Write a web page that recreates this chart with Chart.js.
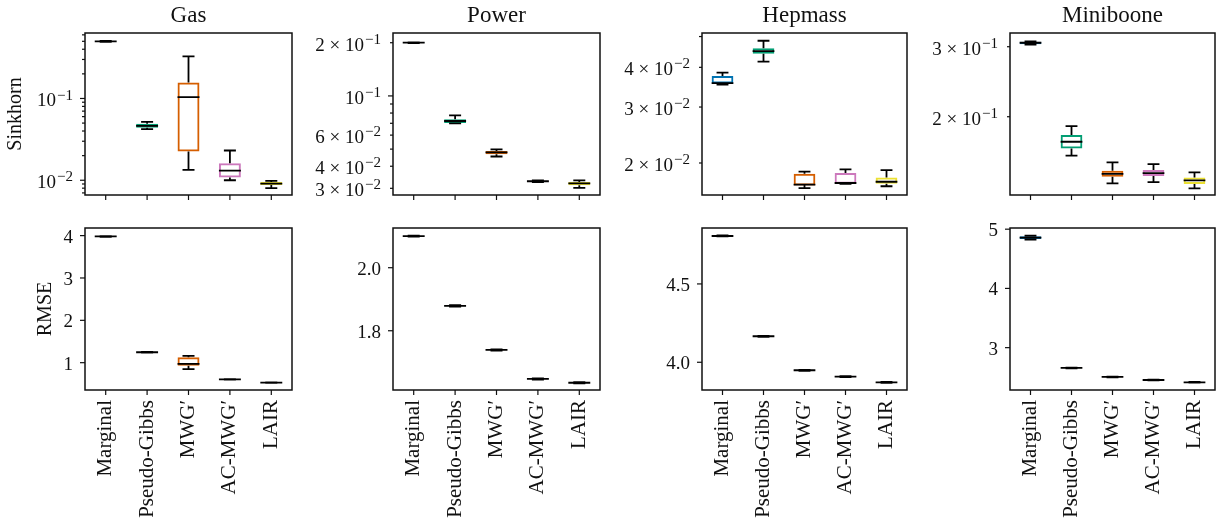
<!DOCTYPE html>
<html>
<head>
<meta charset="utf-8">
<script src="https://cdn.jsdelivr.net/npm/chart.js@4"></script>
<style>
  html, body { margin: 0; padding: 0; background: #fff; }
  #wrap { position: relative; width: 1225px; height: 520px; }
  #wrap canvas { position: absolute; left: 0; top: 0; }
</style>
</head>
<body>
<div id="wrap"></div>
<script>
// categories (x axis) and box colours
const categories = ['Marginal', 'Pseudo-Gibbs', 'MWG\u2032', 'AC-MWG\u2032', 'LAIR'];
const boxColors = ['#0173b2', '#029e73', '#d55e00', '#cc78bc', '#ece133'];
const datasetNames = ['Gas', 'Power', 'Hepmass', 'Miniboone'];

// each entry: [whisker low, q1, median, q3, whisker high]
const gasSinkhorn = [
  [0.494, 0.497, 0.499, 0.502, 0.505],
  [0.0421, 0.0440, 0.0463, 0.0490, 0.0518],
  [0.0134, 0.0224, 0.104, 0.157, 0.327],
  [0.0100, 0.0108, 0.0131, 0.0161, 0.0231],
  [0.0080, 0.00875, 0.0091, 0.00953, 0.0098]
];
const powerSinkhorn = [
  [0.199, 0.1993, 0.200, 0.2007, 0.201],
  [0.0700, 0.0703, 0.0721, 0.0738, 0.0777],
  [0.0454, 0.0467, 0.0479, 0.0488, 0.0498],
  [0.0325, 0.0327, 0.0329, 0.0331, 0.0333],
  [0.0302, 0.0312, 0.0320, 0.0326, 0.0333]
];
const hepmassSinkhorn = [
  [0.0353, 0.0356, 0.0357, 0.0376, 0.0385],
  [0.0417, 0.0441, 0.0450, 0.0459, 0.0485],
  [0.01667, 0.0170, 0.0171, 0.0185, 0.0188],
  [0.0172, 0.0172, 0.0173, 0.0186, 0.0191],
  [0.0169, 0.0172, 0.01746, 0.0180, 0.0190]
];
const minibooneSinkhorn = [
  [0.3035, 0.3043, 0.3070, 0.3087, 0.3095],
  [0.1596, 0.1665, 0.1730, 0.1799, 0.1895],
  [0.1359, 0.1413, 0.1437, 0.1463, 0.1536],
  [0.1370, 0.1419, 0.1442, 0.1469, 0.1520],
  [0.1321, 0.1354, 0.1383, 0.1407, 0.1449]
];

const gasRmse = [
  [3.97, 3.975, 3.98, 3.985, 3.99],
  [1.240, 1.243, 1.246, 1.249, 1.252],
  [0.85, 0.93, 0.97, 1.13, 1.16],
  [0.602, 0.605, 0.607, 0.609, 0.612],
  [0.522, 0.525, 0.527, 0.529, 0.532]
];
const powerRmse = [
  [2.099, 2.0995, 2.1005, 2.101, 2.102],
  [1.877, 1.878, 1.879, 1.880, 1.881],
  [1.737, 1.738, 1.739, 1.740, 1.741],
  [1.645, 1.646, 1.647, 1.648, 1.649],
  [1.633, 1.634, 1.635, 1.636, 1.637]
];
const hepmassRmse = [
  [4.803, 4.804, 4.806, 4.808, 4.809],
  [4.163, 4.164, 4.166, 4.168, 4.169],
  [3.946, 3.947, 3.949, 3.951, 3.952],
  [3.905, 3.906, 3.908, 3.910, 3.911],
  [3.869, 3.870, 3.872, 3.874, 3.875]
];
const minibooneRmse = [
  [4.825, 4.835, 4.858, 4.880, 4.89],
  [2.650, 2.652, 2.657, 2.662, 2.664],
  [2.498, 2.500, 2.505, 2.510, 2.512],
  [2.447, 2.449, 2.454, 2.459, 2.461],
  [2.408, 2.410, 2.415, 2.420, 2.422]
];

// y ranges [min, max]
const gasSinkhornRange = [0.0066, 0.632];
const powerSinkhornRange = [0.0275, 0.227];
const hepmassSinkhornRange = [0.01586, 0.0513];
const minibooneSinkhornRange = [0.1271, 0.3248];
const gasRmseRange = [0.355, 4.18];
const powerRmseRange = [1.612, 2.126];
const hepmassRmseRange = [3.823, 4.857];
const minibooneRmseRange = [2.285, 5.02];

// y ticks and their labels ('' = unlabelled minor tick, '^' starts a superscript)
const gasSinkhornTicks = [0.007, 0.008, 0.009, 0.01, 0.02, 0.03, 0.04, 0.05, 0.06, 0.07, 0.08, 0.09, 0.1, 0.2, 0.3, 0.4, 0.5, 0.6];
const gasSinkhornTickText = ['', '', '', '10^\u22122', '', '', '', '', '', '', '', '', '10^\u22121', '', '', '', '', ''];
const powerSinkhornTicks = [0.03, 0.04, 0.05, 0.06, 0.07, 0.08, 0.09, 0.1, 0.2];
const powerSinkhornTickText = ['3 \u00d7 10^\u22122', '4 \u00d7 10^\u22122', '', '6 \u00d7 10^\u22122', '', '', '', '10^\u22121', '2 \u00d7 10^\u22121'];
const hepmassSinkhornTicks = [0.02, 0.03, 0.04, 0.05];
const hepmassSinkhornTickText = ['2 \u00d7 10^\u22122', '3 \u00d7 10^\u22122', '4 \u00d7 10^\u22122', ''];
const minibooneSinkhornTicks = [0.2, 0.3];
const minibooneSinkhornTickText = ['2 \u00d7 10^\u22121', '3 \u00d7 10^\u22121'];
const gasRmseTicks = [1, 2, 3, 4];
const gasRmseTickText = ['1', '2', '3', '4'];
const powerRmseTicks = [1.8, 2.0];
const powerRmseTickText = ['1.8', '2.0'];
const hepmassRmseTicks = [4.0, 4.5];
const hepmassRmseTickText = ['4.0', '4.5'];
const minibooneRmseTicks = [3, 4, 5];
const minibooneRmseTickText = ['3', '4', '5'];

const FONT = '"Liberation Serif", "DejaVu Serif", serif';
const INK = '#111';

// text with an optional superscript after '^'
function drawLabel(ctx, text, x, y, size, align) {
  const parts = text.split('^');
  const base = parts[0];
  const sup = parts[1] || '';
  const supSize = Math.round(size * 0.78);
  ctx.font = size + 'px ' + FONT;
  const wb = ctx.measureText(base).width;
  ctx.font = supSize + 'px ' + FONT;
  const ws = sup ? ctx.measureText(sup).width + 1 : 0;
  const x0 = align === 'right' ? x - wb - ws : x - (wb + ws) / 2;
  ctx.textAlign = 'left';
  ctx.textBaseline = 'alphabetic';
  ctx.font = size + 'px ' + FONT;
  ctx.fillText(base, x0, y);
  if (sup) {
    ctx.font = supSize + 'px ' + FONT;
    ctx.fillText(sup, x0 + wb + 1, y - size * 0.36);
  }
}

// whiskers, caps and medians
const boxParts = {
  id: 'boxParts',
  afterDatasetsDraw(chart, args, opts) {
    const xs = chart.scales.x, ys = chart.scales.y, ctx = chart.ctx;
    const step = xs.getPixelForValue(1) - xs.getPixelForValue(0);
    ctx.save();
    ctx.strokeStyle = '#000';
    ctx.lineWidth = 1.8;
    opts.stats.forEach((s, i) => {
      const x = xs.getPixelForValue(i);
      const [lo, q1, med, q3, hi] = s.map(v => ys.getPixelForValue(v));
      const half = step * 0.265, cap = step * 0.145;
      ctx.beginPath();
      ctx.moveTo(x, q1); ctx.lineTo(x, lo);
      ctx.moveTo(x - cap, lo); ctx.lineTo(x + cap, lo);
      ctx.moveTo(x, q3); ctx.lineTo(x, hi);
      ctx.moveTo(x - cap, hi); ctx.lineTo(x + cap, hi);
      ctx.moveTo(x - half, med); ctx.lineTo(x + half, med);
      ctx.stroke();
    });
    ctx.restore();
  }
};

// frame, ticks, tick labels, titles
const axesDeco = {
  id: 'axesDeco',
  afterDraw(chart, args, o) {
    const { left, right, top, bottom } = chart.chartArea;
    const ctx = chart.ctx, xs = chart.scales.x, ys = chart.scales.y;
    ctx.save();
    ctx.strokeStyle = INK;
    ctx.fillStyle = INK;
    ctx.lineWidth = 1.5;
    ctx.strokeRect(left, top, right - left, bottom - top);

    ctx.lineWidth = 1.2;
    o.ticks.forEach((v, i) => {
      const y = ys.getPixelForValue(v);
      const major = !o.log || Math.abs(Math.log10(v) - Math.round(Math.log10(v))) < 1e-9;
      const len = major ? 5 : 3;
      ctx.beginPath();
      ctx.moveTo(left, y); ctx.lineTo(left - len, y);
      ctx.stroke();
      const t = o.tickText[i];
      if (t) drawLabel(ctx, t, left - 12, y + (t.includes('^') ? 8 : 7), 19, 'right');
    });

    categories.forEach((c, i) => {
      const x = xs.getPixelForValue(i);
      ctx.beginPath();
      ctx.moveTo(x, bottom); ctx.lineTo(x, bottom + 5);
      ctx.stroke();
      if (o.xLabels) {
        ctx.save();
        ctx.translate(x, bottom + 10);
        ctx.rotate(-Math.PI / 2);
        ctx.font = '21px ' + FONT;
        ctx.textAlign = 'right';
        ctx.textBaseline = 'middle';
        ctx.fillText(c, 0, 0);
        ctx.restore();
      }
    });

    if (o.title) {
      ctx.font = '23px ' + FONT;
      ctx.textAlign = 'center';
      ctx.textBaseline = 'alphabetic';
      ctx.fillText(o.title, (left + right) / 2, 22);
    }
    if (o.yLabel) {
      ctx.save();
      ctx.translate(o.yLabelX, (top + bottom) / 2);
      ctx.rotate(-Math.PI / 2);
      ctx.font = '20px ' + FONT;
      ctx.textAlign = 'center';
      ctx.textBaseline = 'middle';
      ctx.fillText(o.yLabel, 0, 0);
      ctx.restore();
    }
    ctx.restore();
  }
};

const colEdges = [[85, 292], [393, 600], [702, 907], [1010, 1215]];
const rowEdges = [[33, 195], [228, 390]];
const wrap = document.getElementById('wrap');

function makePanel(col, row, stats, range, ticks, tickText, log, extra) {
  const canvas = document.createElement('canvas');
  canvas.width = 1225;
  canvas.height = 520;
  wrap.appendChild(canvas);
  const [l, r] = colEdges[col], [t, b] = rowEdges[row];
  new Chart(canvas, {
    type: 'bar',
    data: {
      labels: categories,
      datasets: [{
        data: stats.map(s => [s[1], s[3]]),
        backgroundColor: 'rgba(255,255,255,0)',
        borderColor: boxColors,
        borderWidth: 2,
        borderSkipped: false,
        barPercentage: 0.53,
        categoryPercentage: 1
      }]
    },
    options: {
      responsive: false,
      animation: false,
      devicePixelRatio: 1,
      layout: { padding: { left: l, top: t, right: 1225 - r, bottom: 520 - b } },
      scales: {
        x: { display: false, offset: true },
        y: { display: false, type: log ? 'logarithmic' : 'linear', min: range[0], max: range[1] }
      },
      plugins: {
        legend: { display: false },
        tooltip: { enabled: false },
        boxParts: { stats: stats },
        axesDeco: Object.assign({ ticks: ticks, tickText: tickText, log: log, xLabels: row === 1 }, extra)
      }
    },
    plugins: [boxParts, axesDeco]
  });
}

makePanel(0, 0, gasSinkhorn, gasSinkhornRange, gasSinkhornTicks, gasSinkhornTickText, true,
  { title: datasetNames[0], yLabel: 'Sinkhorn', yLabelX: 16 });
makePanel(1, 0, powerSinkhorn, powerSinkhornRange, powerSinkhornTicks, powerSinkhornTickText, true,
  { title: datasetNames[1] });
makePanel(2, 0, hepmassSinkhorn, hepmassSinkhornRange, hepmassSinkhornTicks, hepmassSinkhornTickText, true,
  { title: datasetNames[2] });
makePanel(3, 0, minibooneSinkhorn, minibooneSinkhornRange, minibooneSinkhornTicks, minibooneSinkhornTickText, true,
  { title: datasetNames[3] });

makePanel(0, 1, gasRmse, gasRmseRange, gasRmseTicks, gasRmseTickText, false,
  { yLabel: 'RMSE', yLabelX: 46 });
makePanel(1, 1, powerRmse, powerRmseRange, powerRmseTicks, powerRmseTickText, false, {});
makePanel(2, 1, hepmassRmse, hepmassRmseRange, hepmassRmseTicks, hepmassRmseTickText, false, {});
makePanel(3, 1, minibooneRmse, minibooneRmseRange, minibooneRmseTicks, minibooneRmseTickText, false, {});
</script>
</body>
</html>
